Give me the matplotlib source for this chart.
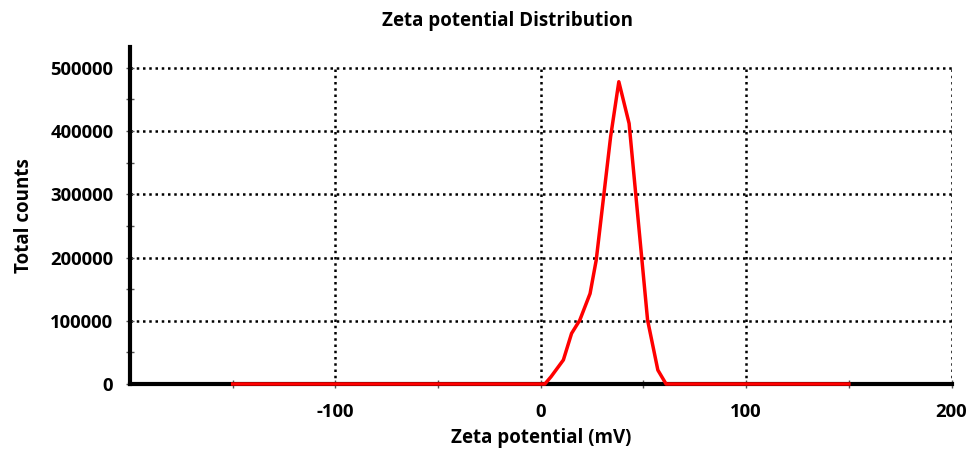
import numpy as np
import matplotlib.pyplot as plt

plt.rcParams['font.family'] = ['Open Sans', 'DejaVu Sans']
plt.rcParams['font.weight'] = 'bold'
plt.rcParams['axes.unicode_minus'] = False

# zeta potential (mV) vs total counts
zeta = [-150, 2, 5, 11, 15, 19, 24, 27, 34, 38, 43, 52, 57, 61, 150]
counts = [0, 0, 11500, 38000, 80000, 101000, 143000, 196000, 391000, 478000,
          412000, 101000, 22000, 0, 0]

x_ticks = [-100, 0, 100, 200]
y_ticks = [0, 100000, 200000, 300000, 400000, 500000]

fig = plt.figure(figsize=(9.7, 4.5), dpi=100)
ax = fig.add_axes([0.134, 0.1467, 0.847, 0.749])

ax.set_xlim(-200, 200)
ax.set_ylim(0, 533000)

# dotted grid, only up to the top tick
for xv in x_ticks:
    ax.plot([xv, xv], [0, y_ticks[-1]], color='black', ls=(0, (1.0, 1.5)), lw=1.8, zorder=1)
for yv in y_ticks[1:]:
    ax.plot([-200, 200], [yv, yv], color='black', ls=(0, (1.0, 1.5)), lw=1.8, zorder=1)

ax.plot(zeta, counts, color='#ff0000', lw=2.5, zorder=5, clip_on=False)

for s in ['top', 'right']:
    ax.spines[s].set_visible(False)
ax.spines['left'].set_linewidth(3)
ax.spines['bottom'].set_linewidth(3)
ax.spines['bottom'].set_zorder(3)

ax.set_xticks(x_ticks)
ax.set_xticks([-150, -50, 50, 150], minor=True)
ax.set_yticks(y_ticks)
ax.set_yticks(np.arange(50000, 500001, 100000), minor=True)
ax.tick_params(which='both', direction='inout', length=6, width=1, color='#555555')
ax.tick_params(axis='y', labelsize=13.3, pad=9)
ax.tick_params(axis='x', labelsize=13.3, pad=11)

ax.set_xlabel('Zeta potential (mV)', fontsize=13.5, fontweight='bold', labelpad=5)
ax.set_ylabel('Total counts', fontsize=13.5, fontweight='bold', labelpad=12)
fig.text(508 / 970, 1 - 21 / 450, 'Zeta potential Distribution', ha='center', va='center',
         fontsize=13.5, fontweight='bold')

fig.savefig('out.png')
